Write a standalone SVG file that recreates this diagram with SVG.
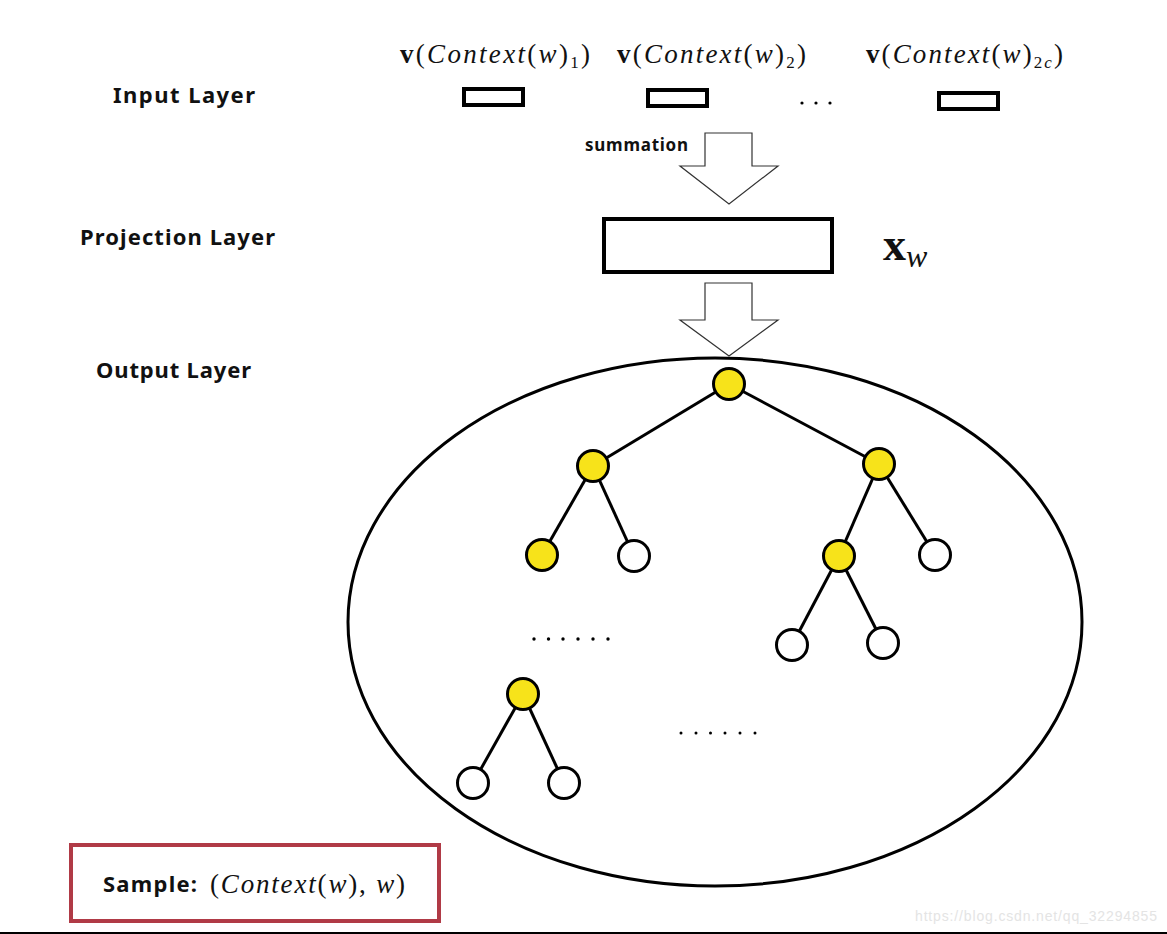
<svg xmlns="http://www.w3.org/2000/svg" width="1167" height="934" viewBox="0 0 1167 934">
<style>
.lbl{font-family:"Noto Sans","Open Sans",sans-serif;font-weight:bold;font-size:22px;fill:#111}
.math{font-family:"Liberation Serif","DejaVu Serif",serif;font-size:27px;fill:#111}
.it{font-style:italic}
.b{font-weight:bold}
.sub{font-size:17px}
.box{fill:#fff;stroke:#000;stroke-width:4}
.arrow{fill:#fff;stroke:#333;stroke-width:1.2}
.edge{stroke:#000;stroke-width:3;fill:none}
.y{fill:#f7e31a;stroke:#000;stroke-width:3}
.w{fill:#fff;stroke:#000;stroke-width:3}
.dots{fill:#000}
</style>
<rect width="1167" height="934" fill="#fff"/>
<g id="labels">
<text class="lbl" x="113" y="103" textLength="142">Input  Layer</text>
<text class="lbl" x="80" y="245" textLength="195">Projection  Layer</text>
<text class="lbl" x="96" y="378" textLength="155">Output Layer</text>
</g>
<g id="input-layer">
<text class="math" x="400" y="63" textLength="190"><tspan class="b">v</tspan>(<tspan class="it">Context</tspan>(<tspan class="it">w</tspan>)<tspan class="sub" dy="5">1</tspan><tspan dy="-5">)</tspan></text>
<text class="math" x="617" y="63" textLength="189"><tspan class="b">v</tspan>(<tspan class="it">Context</tspan>(<tspan class="it">w</tspan>)<tspan class="sub" dy="5">2</tspan><tspan dy="-5">)</tspan></text>
<text class="math" x="866" y="63" textLength="197"><tspan class="b">v</tspan>(<tspan class="it">Context</tspan>(<tspan class="it">w</tspan>)<tspan class="sub" dy="5">2<tspan class="it">c</tspan></tspan><tspan dy="-5">)</tspan></text>
<rect id="in1" class="box" x="464" y="89" width="59" height="16"/>
<rect id="in2" class="box" x="648" y="90" width="59" height="16"/>
<g class="dots"><circle cx="802" cy="103" r="1.6"/><circle cx="816" cy="103" r="1.6"/><circle cx="830" cy="103" r="1.6"/></g>
<rect id="in3" class="box" x="939" y="93" width="59" height="16"/>
</g>
<g id="summation-arrow">
<polygon class="arrow" points="705,133 752,133 752,166 778,166 729,204 680,166 705,166"/>
<text class="lbl" x="585" y="151" style="font-size:17px" textLength="103">summation</text>
</g>
<g id="projection">
<rect class="box" x="604" y="219" width="228" height="53"/>
<text class="math" x="883" y="260" style="font-size:46px"><tspan class="b">x</tspan><tspan class="it" style="font-size:32px" dy="7">w</tspan></text>
</g>
<g id="output-arrow">
<polygon class="arrow" points="705,283 752,283 752,320 778,320 729,356 680,320 705,320"/>
</g>
<g id="output-layer">
<ellipse cx="715" cy="622" rx="367" ry="264" fill="none" stroke="#000" stroke-width="3"/>
</g>
<g id="connectors">
<line class="edge" x1="729" y1="384" x2="593" y2="466"/>
<line class="edge" x1="729" y1="384" x2="879" y2="464"/>
<line class="edge" x1="593" y1="466" x2="542" y2="555"/>
<line class="edge" x1="593" y1="466" x2="634" y2="556"/>
<line class="edge" x1="879" y1="464" x2="839" y2="556"/>
<line class="edge" x1="879" y1="464" x2="935" y2="555"/>
<line class="edge" x1="839" y1="556" x2="792" y2="645"/>
<line class="edge" x1="839" y1="556" x2="883" y2="643"/>
<line class="edge" x1="523" y1="694" x2="473" y2="783"/>
<line class="edge" x1="523" y1="694" x2="564" y2="783"/>
</g>
<g id="n-root"><circle class="y" cx="729" cy="384" r="15.5"/></g>
<g id="n-l1"><circle class="y" cx="593" cy="466" r="15.5"/></g>
<g id="n-r1"><circle class="y" cx="879" cy="464" r="15.5"/></g>
<g id="n-ll"><circle class="y" cx="542" cy="555" r="15.5"/></g>
<g id="n-lr"><circle class="w" cx="634" cy="556" r="15.5"/></g>
<g id="n-rl"><circle class="y" cx="839" cy="556" r="15.5"/></g>
<g id="n-rr"><circle class="w" cx="935" cy="555" r="15.5"/></g>
<g id="n-rll"><circle class="w" cx="792" cy="645" r="15.5"/></g>
<g id="n-rlr"><circle class="w" cx="883" cy="643" r="15.5"/></g>
<g id="n-bl"><circle class="y" cx="523" cy="694" r="15.5"/></g>
<g id="n-bll"><circle class="w" cx="473" cy="783" r="15.5"/></g>
<g id="n-blr"><circle class="w" cx="564" cy="783" r="15.5"/></g>
<g id="ellipsis-1" class="dots">
<circle cx="534" cy="639" r="1.7"/><circle cx="548.5" cy="639" r="1.7"/><circle cx="563" cy="639" r="1.7"/><circle cx="578" cy="639" r="1.7"/><circle cx="593" cy="639" r="1.7"/><circle cx="608" cy="639" r="1.7"/>
</g>
<g id="ellipsis-2" class="dots">
<circle cx="681" cy="733" r="1.5"/><circle cx="696" cy="733" r="1.5"/><circle cx="710.5" cy="733" r="1.5"/><circle cx="725" cy="733" r="1.5"/><circle cx="740" cy="733" r="1.5"/><circle cx="755" cy="733" r="1.5"/>
</g>
<g id="sample">
<rect x="71" y="845" width="368" height="76" fill="#fff" stroke="#b03a46" stroke-width="4"/>
<text class="lbl" x="103" y="892" textLength="94">Sample:</text>
<text class="math" x="210" y="893" textLength="195">(<tspan class="it">Context</tspan>(<tspan class="it">w</tspan>), <tspan class="it">w</tspan>)</text>
</g>
<text x="915" y="921" style="font-family:'Liberation Sans',sans-serif;font-size:14px;fill:#e4e4e4" textLength="242">https://blog.csdn.net/qq_32294855</text>
<rect x="0" y="932" width="1167" height="2" fill="#000"/>
</svg>
